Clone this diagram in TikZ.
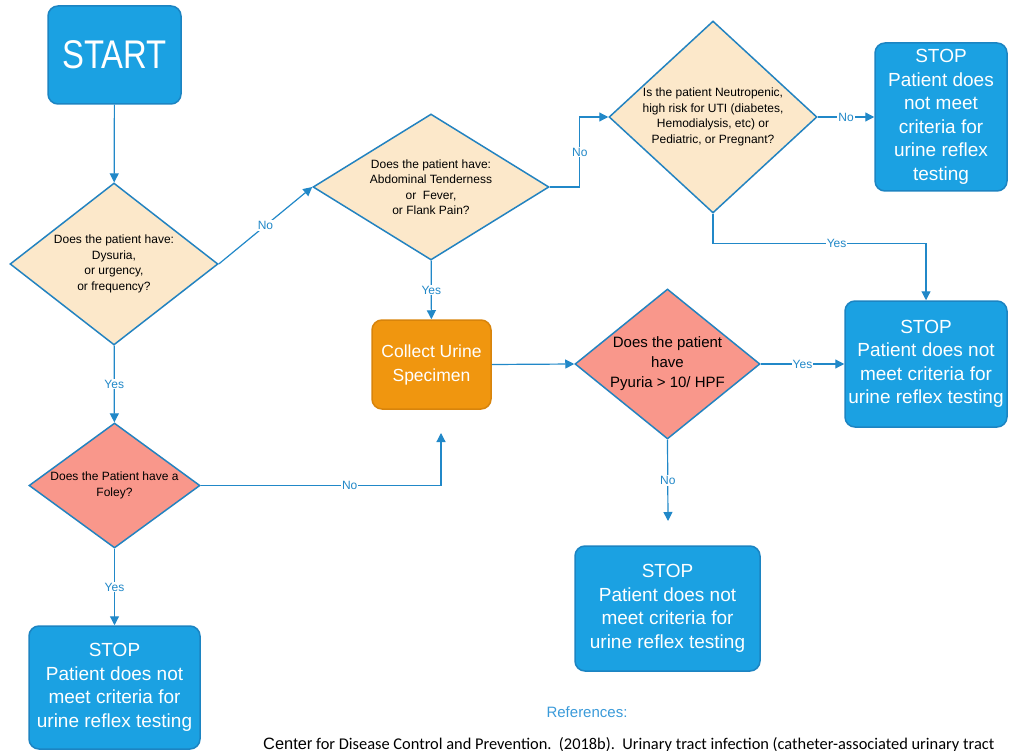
\documentclass[tikz,border=0pt]{standalone}
\usepackage{fontspec}
\setmainfont{Liberation Sans}
\newfontfamily\narrowfont[FakeStretch=0.82]{Liberation Sans}
\newfontfamily\reffont{Carlito}
\usetikzlibrary{shapes.geometric,arrows.meta,positioning}
\definecolor{boxblue}{HTML}{1BA1E2}
\definecolor{boxedge}{HTML}{1C84C2}
\definecolor{askedge}{HTML}{2383C0}
\definecolor{flowline}{HTML}{2188C8}
\definecolor{tan}{HTML}{FCE8CA}
\definecolor{salmon}{HTML}{F9978B}
\definecolor{urineorange}{HTML}{F0960F}
\definecolor{urineedge}{HTML}{D8840B}
\definecolor{reftext}{HTML}{3A9AD9}
\begin{document}
\begin{tikzpicture}[x=1pt, y=-1pt,
    box/.style = {draw=boxedge, line width=1.5pt, rounded corners=10pt, align=center, text=white, inner sep=0pt},
    halt/.style = {box, fill=boxblue, font=\fontsize{19}{23.5}\selectfont},
    ask/.style = {diamond, draw=askedge, line width=1.5pt, inner sep=0pt},
    qtext/.style = {align=center, text=black, font=\fontsize{12}{15.5}\selectfont},
    flow/.style = {draw=flowline, line width=1.2pt, -{Triangle[length=9pt,width=9pt]}},
    lbl/.style = {fill=white, text=flowline, font=\fontsize{12}{14}\selectfont, inner sep=1pt}]
    \useasboundingbox (0,0) rectangle (1014,751);
    % boxes
    \node[box, fill=boxblue, minimum width=133, minimum height=98, font=\narrowfont\fontsize{40}{44}\selectfont] (start) at (114.5,55) {START};
    \node[ask, fill=tan, minimum width=208, minimum height=162,
        label={[qtext]center:{Does the patient have:\\Dysuria,\\or urgency,\\or frequency?}}] (q1) at (114,264) {};
    \node[ask, fill=tan, minimum width=236, minimum height=146,
        label={[qtext]center:{Does the patient have:\\Abdominal Tenderness\\or\ \ Fever,\\or Flank Pain?}}] (q2) at (431,187) {};
    \node[ask, fill=tan, minimum width=208, minimum height=192,
        label={[qtext]center:{Is the patient Neutropenic,\\high risk for UTI (diabetes,\\Hemodialysis, etc) or\\Pediatric, or Pregnant?}}] (q3) at (713,117) {};
    \node[halt, minimum width=132, minimum height=148] (stop1) at (941,117) {STOP\\Patient does\\not meet\\criteria for\\urine reflex\\testing};
    \node[halt, minimum width=162, minimum height=126] (stop2) at (926,364) {STOP\\Patient does not\\meet criteria for\\urine reflex testing};
    \node[box, fill=urineorange, draw=urineedge, minimum width=119, minimum height=89, font=\fontsize{17.5}{24}\selectfont] (urine) at (431.5,364.5) {Collect Urine\\Specimen};
    \node[ask, fill=salmon, minimum width=185, minimum height=150,
        label={[qtext, font=\fontsize{15}{20}\selectfont]center:{Does the patient\\have\\Pyuria > 10/ HPF}}] (q4) at (667.5,364) {};
    \node[ask, fill=salmon, minimum width=171, minimum height=125,
        label={[qtext, font=\fontsize{12}{16}\selectfont]center:{Does the Patient have a\\Foley?}}] (foley) at (114.5,485.5) {};
    \node[halt, minimum width=171, minimum height=123] (stop3) at (114.5,687.5) {STOP\\Patient does not\\meet criteria for\\urine reflex testing};
    \node[halt, minimum width=185, minimum height=125] (stop4) at (667.5,608.5) {STOP\\Patient does not\\meet criteria for\\urine reflex testing};
    \coordinate (fEnd) at (441,433);
    \coordinate (pEnd) at (668,521);
    % connectors
    \draw[flow] (start) -- (q1);
    \draw[flow] (q1.east) -- node[lbl]{No} (q2.west);
    \draw[flow] (q1) -- node[lbl]{Yes} (foley);
    \draw[flow] (q2) -- node[lbl]{Yes} (urine);
    \draw[flow] (q2.east) -- ++(30,0) |- node[lbl, pos=0.25]{No} (q3.west);
    \draw[flow] (q3.east) -- node[lbl]{No} (stop1.west);
    \draw[flow] (q3.south) -- ++(0,30) -| node[lbl, pos=0.29]{Yes} (stop2.north);
    \draw[flow] (urine.east) -- (q4.west);
    \draw[flow] (q4.east) -- node[lbl]{Yes} (stop2.west);
    \draw[flow] (q4.south) -- node[lbl]{No} (pEnd);
    \draw[flow] (foley.east) -| node[lbl, pos=0.31]{No} (fEnd);
    \draw[flow] (foley) -- node[lbl]{Yes} (stop3);
    % references
    \node[text=reftext, font=\fontsize{15}{18}\selectfont] (refs) at (587,712) {References:};
    \node[anchor=base west, inner sep=0pt, font=\reffont\fontsize{16.4}{18}\selectfont] (cite) at (263,749) {{\normalfont Center} for Disease Control and Prevention.\ \ (2018b).\ \ Urinary tract infection (catheter-associated urinary tract};
\end{tikzpicture}
\end{document}
